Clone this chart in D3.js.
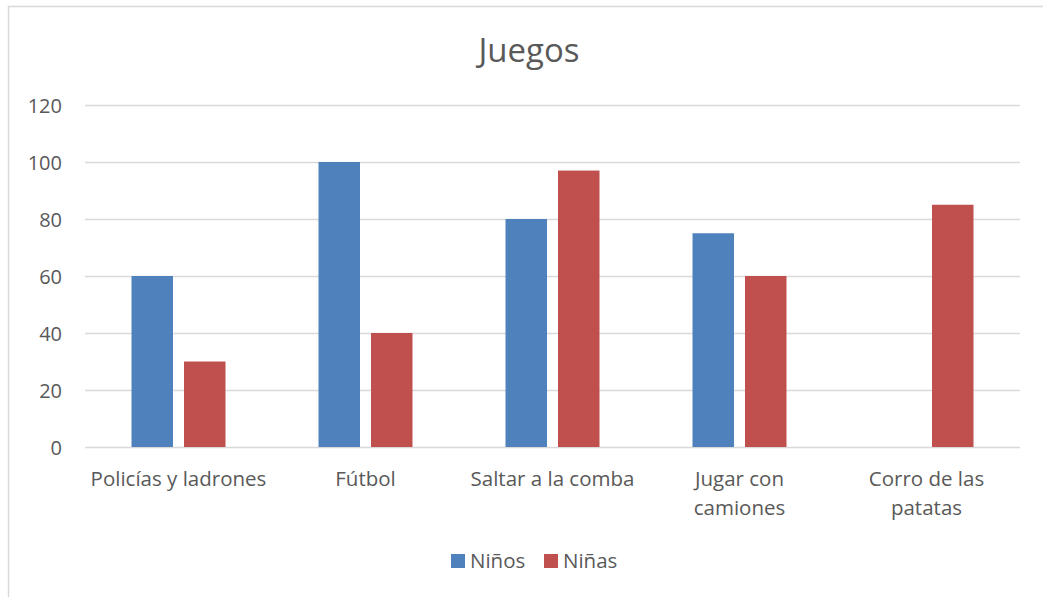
<!DOCTYPE html>
<html>
<head>
<meta charset="utf-8">
<script src="https://cdn.jsdelivr.net/npm/d3@7"></script>
<style>
  body { margin: 0; background: #fff; }
  text { font-family: "Open Sans", Lato, sans-serif; fill: #595959; }
</style>
</head>
<body>
<div class="chart"></div>
<script>
// datos del gráfico
const categories = ['Policías y ladrones', 'Fútbol', 'Saltar a la comba', 'Jugar con camiones', 'Corro de las patatas']
const catLabels = [['Policías y ladrones'], ['Fútbol'], ['Saltar a la comba'], ['Jugar con', 'camiones'], ['Corro de las', 'patatas']]
const seriesNames = ['Niños', 'Niñas']
const ninos = [60, 100, 80, 75, 0]
const ninas = [30, 40, 97, 60, 85]
const yTicks = [0, 20, 40, 60, 80, 100, 120]
const colors = ['#4F81BD', '#C0504D']

const W = 1043, H = 597
const svg = d3.select('.chart').append('svg')
  .attr('width', W).attr('height', H)

// borde del gráfico
svg.append('rect')
  .attr('x', 8.5).attr('y', 6.5)
  .attr('width', W + 20).attr('height', H + 20)
  .attr('fill', 'none').attr('stroke', '#d9d9d9').attr('stroke-width', 1.5)

const pLeft = 85, pRight = 1020, pTop = 105, pBottom = 447

const x = d3.scaleBand().domain(categories).range([pLeft, pRight])
const y = d3.scaleLinear().domain([0, 120]).range([pBottom, pTop])

svg.append('text')
  .attr('x', 529).attr('y', 62)
  .attr('text-anchor', 'middle')
  .style('font-size', '33px')
  .text('Juegos')

// rejilla
svg.selectAll('.grid')
  .data(yTicks)
  .enter()
  .append('line')
  .attr('x1', pLeft).attr('x2', pRight)
  .attr('y1', d => y(d) + 0.5).attr('y2', d => y(d) + 0.5)
  .attr('stroke', '#d9d9d9').attr('stroke-width', 1.3)

svg.selectAll('.ytick')
  .data(yTicks)
  .enter()
  .append('text')
  .attr('x', 62).attr('y', d => y(d) + 8)
  .attr('text-anchor', 'end')
  .style('font-size', '20px')
  .text(d => d)

const data = categories.map((c, i) => ({cat: c, vals: [ninos[i], ninas[i]]}))
const bw = 41.5, gap = 11

const groups = svg.selectAll('.cat')
  .data(data)
  .enter()
  .append('g')

groups.selectAll('rect')
  .data(d => d.vals.map((v, j) => ({cat: d.cat, v: v, j: j})))
  .enter()
  .append('rect')
  .attr('x', d => x(d.cat) + x.bandwidth() / 2 + (d.j === 0 ? -gap / 2 - bw : gap / 2))
  .attr('y', d => y(d.v))
  .attr('width', bw)
  .attr('height', d => pBottom - y(d.v))
  .attr('fill', d => colors[d.j])

// etiquetas de categoría
svg.selectAll('.xlab')
  .data(categories)
  .enter()
  .append('text')
  .attr('text-anchor', 'middle')
  .style('font-size', '20.5px')
  .each(function (d, i) {
    d3.select(this).selectAll('tspan')
      .data(catLabels[i])
      .enter()
      .append('tspan')
      .attr('x', x(d) + x.bandwidth() / 2)
      .attr('y', (t, k) => 486 + k * 29)
      .text(t => t)
  })

// leyenda
const leg = svg.append('g')
const legX = [451, 544]
seriesNames.forEach((s, i) => {
  leg.append('rect')
    .attr('x', legX[i]).attr('y', 554)
    .attr('width', 14).attr('height', 14)
    .attr('fill', colors[i])
  leg.append('text')
    .attr('x', legX[i] + 19).attr('y', 568)
    .style('font-size', '20.5px')
    .text(s)
})
</script>
</body>
</html>
